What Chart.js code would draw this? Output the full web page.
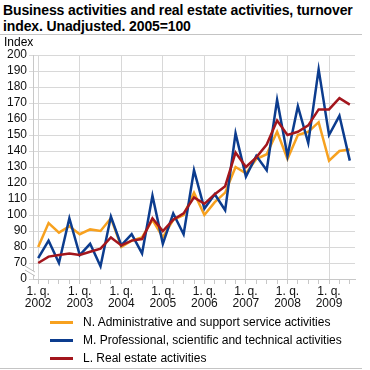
<!DOCTYPE html>
<html>
<head>
<meta charset="utf-8">
<script src="https://cdn.jsdelivr.net/npm/chart.js@4"></script>
<style>
  html, body { margin: 0; padding: 0; background: #fff; }
  body { width: 370px; height: 370px; position: relative; overflow: hidden;
         font-family: "Liberation Sans", Arial, sans-serif; color: #000; }
  #title { position: absolute; left: 3px; top: 2px; font-weight: bold; font-size: 14px; line-height: 16px;
           letter-spacing: -0.12px; white-space: nowrap; }
  .rule { position: absolute; left: 0; width: 362px; height: 0; border-top: 1px solid #c4c4c4; }
  #unit { position: absolute; left: 4px; top: 35px; font-size: 12px; }
  #chart { position: absolute; left: 0; top: 0; }
  #legend { position: absolute; left: 50px; top: 313px; margin: 0; padding: 0; list-style: none; font-size: 12px; }
  #legend li { height: 18px; line-height: 18px; white-space: nowrap; }
  #legend span.swatch { display: inline-block; width: 23px; height: 3px; vertical-align: middle; margin-right: 10px; }
</style>
</head>
<body>
<div id="title">Business activities and real estate activities, turnover<br>index. Unadjusted. 2005=100</div>
<div class="rule" style="top:34px"></div>
<canvas id="chart" width="370" height="370"></canvas>
<div id="unit">Index</div>
<ul id="legend"></ul>
<div class="rule" style="top:368px"></div>
<script>
// quarters 2002 Q1 .. 2009 Q3
const years = [2002, 2003, 2004, 2005, 2006, 2007, 2008, 2009];
const quarters = [];
years.forEach(y => { for (let q = 1; q <= 4; q++) if (y < 2009 || q <= 3) quarters.push(y + 'K' + q); });

const yTicks = [60, 70, 80, 90, 100, 110, 120, 130, 140, 150, 160, 170, 180, 190, 200];

const adminSupport = [80, 95, 89, 93, 88, 91, 90, 98, 80, 84, 86, 97, 86, 97, 100, 114,
                      100, 108, 114, 130, 126, 135, 138, 152, 135, 150, 152, 158, 134, 140, 141];
const professional = [73, 84, 70, 98, 75, 82, 68, 99, 81, 88, 76, 112, 82, 101, 88, 128,
                      104, 113, 103, 151, 124, 137, 128, 172, 137, 168, 145, 191, 150, 162, 134];
const realEstate   = [70, 74, 75, 76, 75, 77, 79, 86, 81, 84, 85, 98, 90, 97, 101, 111,
                      107, 113, 118, 139, 130, 136, 144, 159, 150, 152, 156, 166, 166, 173, 169];

const series = [
  { label: 'N. Administrative and support service activities', data: adminSupport, color: '#F7A11F', order: 2 },
  { label: 'M. Professional, scientific and technical activities', data: professional, color: '#0C3C8E', order: 1 },
  { label: 'L. Real estate activities', data: realEstate, color: '#A3161D', order: 0 },
];

const gridColor = '#d8d8d8';
const tickFont = { family: '"Liberation Sans", Arial, sans-serif', size: 12, lineHeight: 1.05 };

// two slanted strokes on the y axis between "0" and 70
const axisBreak = {
  id: 'axisBreak',
  afterDraw(chart) {
    const { ctx, scales: { y } } = chart;
    const x = y.right;
    const yc = y.getPixelForValue(65);
    ctx.save();
    ctx.fillStyle = '#fff';
    ctx.beginPath();
    ctx.moveTo(x - 8, yc - 5); ctx.lineTo(x + 2, yc + 1); ctx.lineTo(x + 2, yc + 5); ctx.lineTo(x - 8, yc - 1);
    ctx.closePath(); ctx.fill();
    ctx.strokeStyle = '#bdbdbd'; ctx.lineWidth = 1;
    ctx.beginPath();
    ctx.moveTo(x - 8, yc - 5); ctx.lineTo(x + 2, yc + 1);
    ctx.moveTo(x - 8, yc - 1); ctx.lineTo(x + 2, yc + 5);
    ctx.stroke();
    ctx.restore();
  }
};

new Chart(document.getElementById('chart'), {
  type: 'line',
  data: {
    labels: quarters,
    datasets: series.map(s => ({
      label: s.label,
      data: s.data,
      borderColor: s.color,
      backgroundColor: s.color,
      borderWidth: 2.5,
      pointRadius: 0,
      tension: 0,
      order: s.order
    }))
  },
  options: {
    responsive: false,
    animation: false,
    devicePixelRatio: 1,
    layout: { padding: { top: 55, right: 15, bottom: 55, left: 0 } },
    plugins: { legend: { display: false }, tooltip: { enabled: false } },
    scales: {
      x: {
        offset: true,
        grid: {
          offset: false,
          color: c => (c.index % 4 === 0 ? gridColor : 'rgba(0,0,0,0)'),
          tickColor: '#c8c8c8',
          tickLength: 5
        },
        border: { color: '#c8c8c8' },
        ticks: {
          autoSkip: false, maxRotation: 0, padding: 1,
          color: '#111',
          font: tickFont,
          callback: (v, i) => (i % 4 === 0 ? ['1. q.', quarters[i].slice(0, 4)] : '')
        },
        afterFit: s => { s.height = 36; }
      },
      y: {
        min: 60, max: 200,
        afterBuildTicks: s => { s.ticks = yTicks.map(v => ({ value: v })); },
        grid: { color: gridColor, tickColor: gridColor, tickLength: 4 },
        border: { color: '#c8c8c8' },
        ticks: {
          autoSkip: false,
          padding: 2,
          color: '#111',
          font: tickFont,
          callback: v => (v === 60 ? '0' : v)
        },
        afterFit: s => { s.width = 33; }
      }
    }
  },
  plugins: [axisBreak]
});

// html legend in the original order
const legend = document.getElementById('legend');
series.forEach(s => {
  const li = document.createElement('li');
  li.innerHTML = `<span class="swatch" style="background:${s.color}"></span>${s.label}`;
  legend.appendChild(li);
});
</script>
</body>
</html>
